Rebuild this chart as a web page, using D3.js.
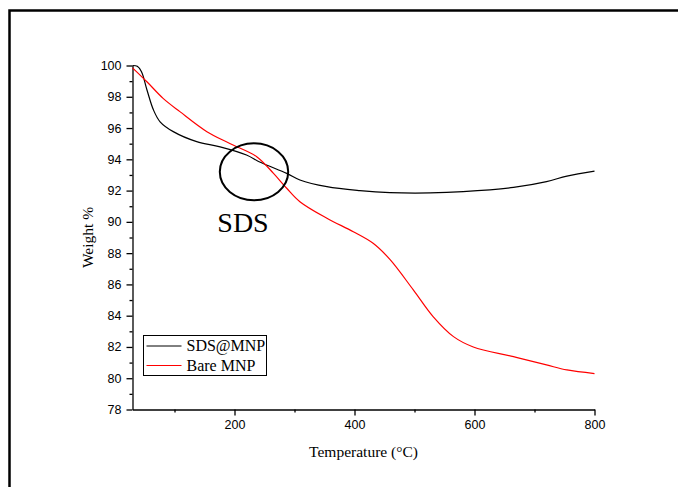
<!DOCTYPE html>
<html>
<head>
<meta charset="utf-8">
<script src="https://cdn.jsdelivr.net/npm/d3@7/dist/d3.min.js"></script>
<style>
  html, body { margin: 0; padding: 0; background: #fff; overflow: hidden; }
  svg { display: block; }
</style>
</head>
<body>
<div id="chart"></div>
<script>
// TGA curves (temperature in °C, weight in %)
const tempSDS = [30, 38, 45, 54, 65, 76, 98, 137, 176, 220, 243, 287, 309, 354, 409, 459, 526, 581, 665, 720, 754, 800];
const weightSDS = [100, 99.95, 99.6, 98.45, 97.15, 96.4, 95.77, 95.13, 94.8, 94.28, 93.81, 93.1, 92.68, 92.25, 92.0, 91.87, 91.85, 91.93, 92.2, 92.57, 92.93, 93.25];

const tempBare = [30, 54, 81, 109, 154, 193, 237, 265, 287, 309, 354, 398, 431, 459, 498, 531, 565, 598, 665, 720, 754, 800];
const weightBare = [99.85, 98.96, 97.9, 97.05, 95.77, 95.0, 94.17, 93.1, 92.15, 91.29, 90.23, 89.37, 88.63, 87.6, 85.65, 83.94, 82.66, 82.0, 81.38, 80.85, 80.53, 80.3];

const seriesNames = ["SDS@MNP", "Bare MNP"];
const seriesColors = ["#000000", "#ff0000"];

const xMajorTicks = [200, 400, 600, 800];
const xMinorTicks = [100, 300, 500, 700];
const yMajorTicks = [78, 80, 82, 84, 86, 88, 90, 92, 94, 96, 98, 100];
const yMinorTicks = [79, 81, 83, 85, 87, 89, 91, 93, 95, 97, 99];

// annotation ellipse around the crossing (centre and radii in data units)
const noteCenter = [232.5, 93.2];
const noteRadius = [57, 1.82];
const noteText = "SDS";

const W = 678, H = 487;
const margin = { left: 132.5, right: 83.5, top: 65.5, bottom: 77.5 };

const svg = d3.select("#chart").append("svg")
  .attr("width", W).attr("height", H);

// outer frame: only the left and top edges fall inside the picture
svg.append("path")
  .attr("d", `M9.5,${H + 20} V10.5 H${W + 40}`)
  .attr("fill", "none").attr("stroke", "#000").attr("stroke-width", 2.5);

const x = d3.scaleLinear().domain([30, 800]).range([margin.left, W - margin.right]);
const y = d3.scaleLinear().domain([78, 100]).range([H - margin.bottom, margin.top]);

const sans = "Liberation Sans, Arial, sans-serif";
const serif = "Liberation Serif, Times New Roman, serif";

// x axis
svg.append("g")
  .attr("transform", `translate(0,${y(78)})`)
  .call(d3.axisBottom(x).tickValues(xMajorTicks).tickSize(6).tickSizeOuter(0).tickPadding(5).tickFormat(d3.format("d")));
svg.append("g")
  .attr("transform", `translate(0,${y(78)})`)
  .call(d3.axisBottom(x).tickValues(xMinorTicks).tickSize(3).tickSizeOuter(0).tickFormat(""))
  .select(".domain").remove();

// y axis
svg.append("g")
  .attr("transform", `translate(${x(30)},0)`)
  .call(d3.axisLeft(y).tickValues(yMajorTicks).tickSize(6).tickSizeOuter(0).tickPadding(5).tickFormat(d3.format("d")));
svg.append("g")
  .attr("transform", `translate(${x(30)},0)`)
  .call(d3.axisLeft(y).tickValues(yMinorTicks).tickSize(3).tickSizeOuter(0).tickFormat(""))
  .select(".domain").remove();

svg.selectAll(".domain, .tick line").attr("stroke", "#000").attr("stroke-width", 1.3);
svg.selectAll(".tick text")
  .attr("fill", "#000")
  .style("font-family", sans)
  .style("font-size", "12.5px");

// axis titles
svg.append("text")
  .attr("x", (x(30) + x(800)) / 2).attr("y", 457)
  .attr("text-anchor", "middle")
  .style("font-family", serif).style("font-size", "15.5px")
  .text("Temperature (\u00B0C)");

svg.append("text")
  .attr("transform", `translate(93,${(y(78) + y(100)) / 2}) rotate(-90)`)
  .attr("text-anchor", "middle")
  .style("font-family", serif).style("font-size", "15.5px")
  .text("Weight %");

// curves
const series = [
  { name: seriesNames[0], color: seriesColors[0], t: tempSDS, w: weightSDS },
  { name: seriesNames[1], color: seriesColors[1], t: tempBare, w: weightBare },
];

const line = d3.line()
  .x((d) => x(d[0]))
  .y((d) => y(d[1]))
  .curve(d3.curveCatmullRom.alpha(0.5));

svg.selectAll("path.curve")
  .data(series)
  .enter()
  .append("path")
  .attr("class", "curve")
  .attr("d", (s) => line(s.t.map((t, i) => [t, s.w[i]])))
  .attr("fill", "none")
  .attr("stroke", (s) => s.color)
  .attr("stroke-width", 1.2);

// annotation
svg.append("ellipse")
  .attr("cx", x(noteCenter[0])).attr("cy", y(noteCenter[1]))
  .attr("rx", x(noteCenter[0] + noteRadius[0]) - x(noteCenter[0]))
  .attr("ry", y(noteCenter[1]) - y(noteCenter[1] + noteRadius[1]))
  .attr("fill", "none").attr("stroke", "#000").attr("stroke-width", 2);

svg.append("text")
  .attr("x", x(noteCenter[0]) - 11).attr("y", 232)
  .attr("text-anchor", "middle")
  .style("font-family", serif).style("font-size", "28px")
  .text(noteText);

// legend
const legend = svg.append("g").attr("transform", "translate(143.5,335.5)");
legend.append("rect")
  .attr("width", 123).attr("height", 40)
  .attr("fill", "#fff").attr("stroke", "#000").attr("stroke-width", 1);
const rows = legend.selectAll("g.row")
  .data(series)
  .enter()
  .append("g")
  .attr("class", "row")
  .attr("transform", (d, i) => `translate(0,${10.5 + i * 19.5})`);
rows.append("line")
  .attr("x1", 3).attr("x2", 38)
  .attr("stroke", (d) => d.color).attr("stroke-width", 1);
rows.append("text")
  .attr("x", 43).attr("y", 5)
  .style("font-family", serif).style("font-size", "16px")
  .text((d) => d.name);
</script>
</body>
</html>
